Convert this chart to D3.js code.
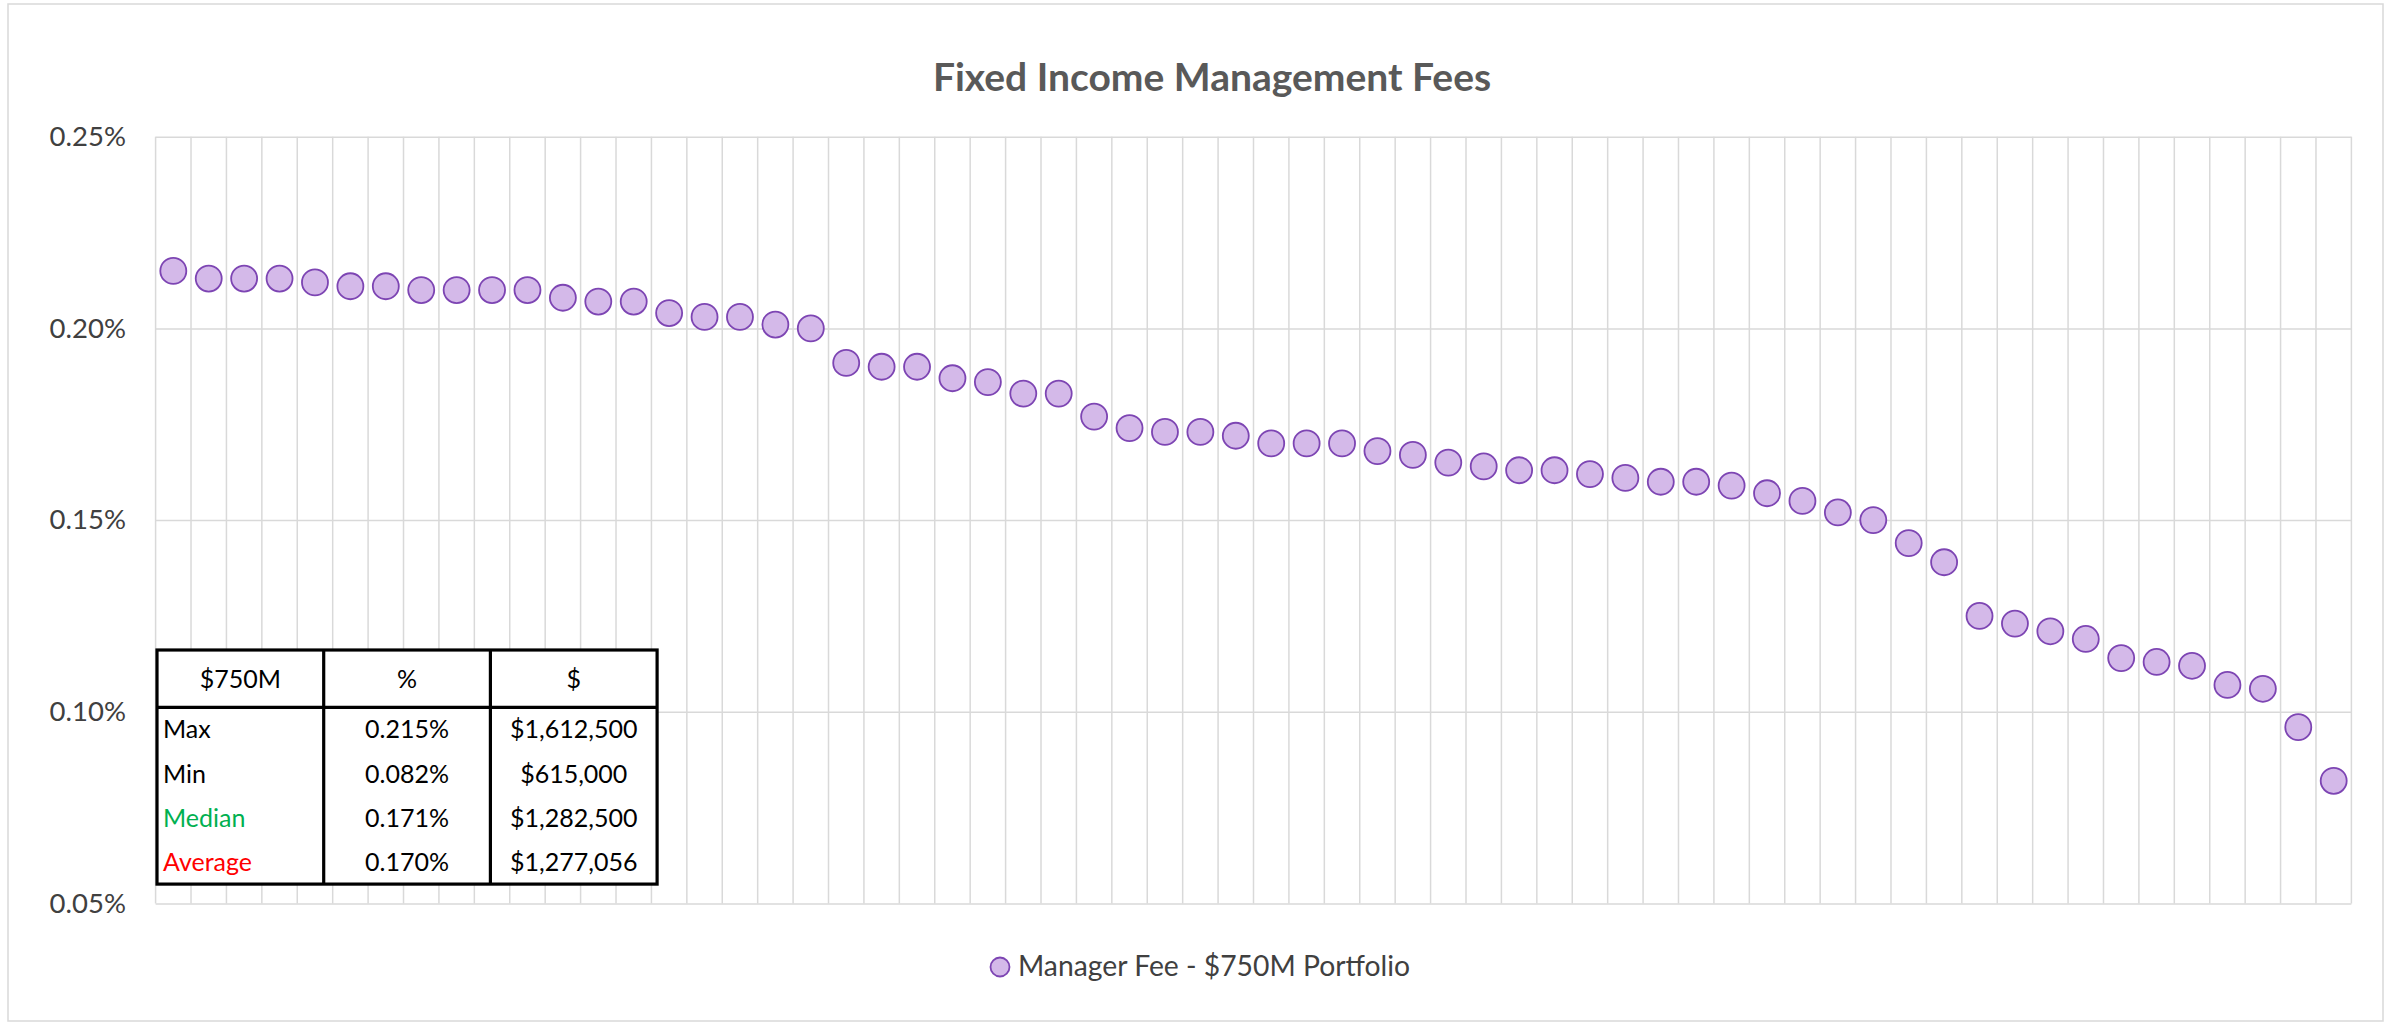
<!DOCTYPE html>
<html>
<head>
<meta charset="utf-8">
<script src="https://cdn.jsdelivr.net/npm/d3@7"></script>
<style>
  body { margin: 0; background: #fff; }
  svg { display: block; font-family: Lato, "Open Sans", sans-serif; }
</style>
</head>
<body>
<div id="chart-area"></div>
<script>
// Fee per manager, in percent, sorted from highest to lowest
const fees = [
  0.215, 0.213, 0.213, 0.213, 0.212, 0.211, 0.211, 0.210, 0.210, 0.210,
  0.210, 0.208, 0.207, 0.207, 0.204, 0.203, 0.203, 0.201, 0.200, 0.191,
  0.190, 0.190, 0.187, 0.186, 0.183, 0.183, 0.177, 0.174, 0.173, 0.173,
  0.172, 0.170, 0.170, 0.170, 0.168, 0.167, 0.165, 0.164, 0.163, 0.163,
  0.162, 0.161, 0.160, 0.160, 0.159, 0.157, 0.155, 0.152, 0.150, 0.144,
  0.139, 0.125, 0.123, 0.121, 0.119, 0.114, 0.113, 0.112, 0.107, 0.106,
  0.096, 0.082
]
const managers = fees.map((d, i) => i + 1)
const yTicks = [0.05, 0.10, 0.15, 0.20, 0.25]

// summary table
const tableHeader = ["$750M", "%", "$"]
const statNames = ["Max", "Min", "Median", "Average"]
const statPct = ["0.215%", "0.082%", "0.171%", "0.170%"]
const statUsd = ["$1,612,500", "$615,000", "$1,282,500", "$1,277,056"]
const statColors = ["#000000", "#000000", "#00b050", "#ff0000"]

const title = "Fixed Income Management Fees"
const seriesName = "Manager Fee - $750M Portfolio"

const W = 2397, H = 1028
const MARGIN = { LEFT: 155.6, RIGHT: 45.6, TOP: 136.7, BOTTOM: 124.5 }
const WIDTH = W - MARGIN.LEFT - MARGIN.RIGHT
const HEIGHT = H - MARGIN.TOP - MARGIN.BOTTOM

const svg = d3.select("#chart-area").append("svg")
  .attr("width", W)
  .attr("height", H)

// chart frame
svg.append("rect")
  .attr("x", 8).attr("y", 4)
  .attr("width", 2375).attr("height", 1017)
  .attr("fill", "#fff")
  .attr("stroke", "#d9d9d9")
  .attr("stroke-width", 1.5)

svg.append("text")
  .attr("x", 1212)
  .attr("y", 91)
  .attr("text-anchor", "middle")
  .attr("font-size", "39px")
  .attr("font-weight", "bold")
  .attr("fill", "#595959")
  .text(title)

const g = svg.append("g")
  .attr("transform", `translate(${MARGIN.LEFT}, ${MARGIN.TOP})`)

const x = d3.scaleBand()
  .domain(managers)
  .range([0, WIDTH])
  .padding(0)

const y = d3.scaleLinear()
  .domain([0.05, 0.25])
  .range([HEIGHT, 0])

// vertical gridlines on the category boundaries
g.append("g")
  .attr("class", "x grid")
  .selectAll("line")
  .data(managers.concat([null]))
  .enter().append("line")
    .attr("x1", d => d === null ? WIDTH : x(d))
    .attr("x2", d => d === null ? WIDTH : x(d))
    .attr("y1", 0)
    .attr("y2", HEIGHT)
    .attr("stroke", "#d9d9d9")
    .attr("stroke-width", 1.5)

// y axis with horizontal gridlines
const yAxisCall = d3.axisLeft(y)
  .tickValues(yTicks)
  .tickSize(-WIDTH)
  .tickPadding(29.6)
  .tickFormat(d => d3.format(".2f")(d) + "%")

const yAxisGroup = g.append("g")
  .attr("class", "y axis")
  .call(yAxisCall)

yAxisGroup.select(".domain").remove()
yAxisGroup.selectAll(".tick line")
  .attr("stroke", "#d9d9d9")
  .attr("stroke-width", 1.5)
yAxisGroup.selectAll(".tick text")
  .attr("font-family", "Lato, sans-serif")
  .attr("font-size", "27.5px")
  .attr("fill", "#404040")

// points
g.selectAll("circle.fee")
  .data(fees)
  .enter().append("circle")
    .attr("class", "fee")
    .attr("cx", (d, i) => x(managers[i]) + x.bandwidth() / 2)
    .attr("cy", d => y(d))
    .attr("r", 13)
    .attr("fill", "#d4b9e9")
    .attr("stroke", "#7d45b3")
    .attr("stroke-width", 1.8)

// summary table
const T = { x: 157, y: 650, colW: 166.7, headH: 57.3, rowH: 44.2 }
const table = svg.append("g").attr("class", "table")
const tableW = T.colW * 3
const tableH = T.headH + T.rowH * statNames.length

table.append("rect")
  .attr("x", T.x).attr("y", T.y)
  .attr("width", tableW).attr("height", tableH)
  .attr("fill", "#fff")
  .attr("stroke", "#000")
  .attr("stroke-width", 3.2)

table.append("line")
  .attr("x1", T.x).attr("x2", T.x + tableW)
  .attr("y1", T.y + T.headH).attr("y2", T.y + T.headH)
  .attr("stroke", "#000").attr("stroke-width", 3.2)

table.selectAll("line.col")
  .data([1, 2])
  .enter().append("line")
    .attr("class", "col")
    .attr("x1", d => T.x + d * T.colW).attr("x2", d => T.x + d * T.colW)
    .attr("y1", T.y).attr("y2", T.y + tableH)
    .attr("stroke", "#000").attr("stroke-width", 3.2)

table.selectAll("text.head")
  .data(tableHeader)
  .enter().append("text")
    .attr("class", "head")
    .attr("x", (d, i) => T.x + T.colW * (i + 0.5))
    .attr("y", T.y + 37.7)
    .attr("text-anchor", "middle")
    .attr("font-size", "25px")
    .attr("fill", "#000")
    .text(d => d)

statNames.forEach((name, i) => {
  const by = T.y + T.headH + T.rowH * i + 31
  table.append("text")
    .attr("x", T.x + 6)
    .attr("y", by)
    .attr("font-size", "25px")
    .attr("fill", statColors[i])
    .text(name)
  table.append("text")
    .attr("x", T.x + T.colW * 1.5)
    .attr("y", by)
    .attr("text-anchor", "middle")
    .attr("font-size", "25px")
    .attr("fill", "#000")
    .text(statPct[i])
  table.append("text")
    .attr("x", T.x + T.colW * 2.5)
    .attr("y", by)
    .attr("text-anchor", "middle")
    .attr("font-size", "25px")
    .attr("fill", "#000")
    .text(statUsd[i])
})

// legend
const legend = svg.append("g")
  .attr("transform", "translate(1000, 967)")
legend.append("circle")
  .attr("r", 9.5)
  .attr("fill", "#d4b9e9")
  .attr("stroke", "#7d45b3")
  .attr("stroke-width", 1.8)
legend.append("text")
  .attr("x", 18)
  .attr("y", 9)
  .attr("font-size", "28.3px")
  .attr("fill", "#404040")
  .text(seriesName)
</script>
</body>
</html>
